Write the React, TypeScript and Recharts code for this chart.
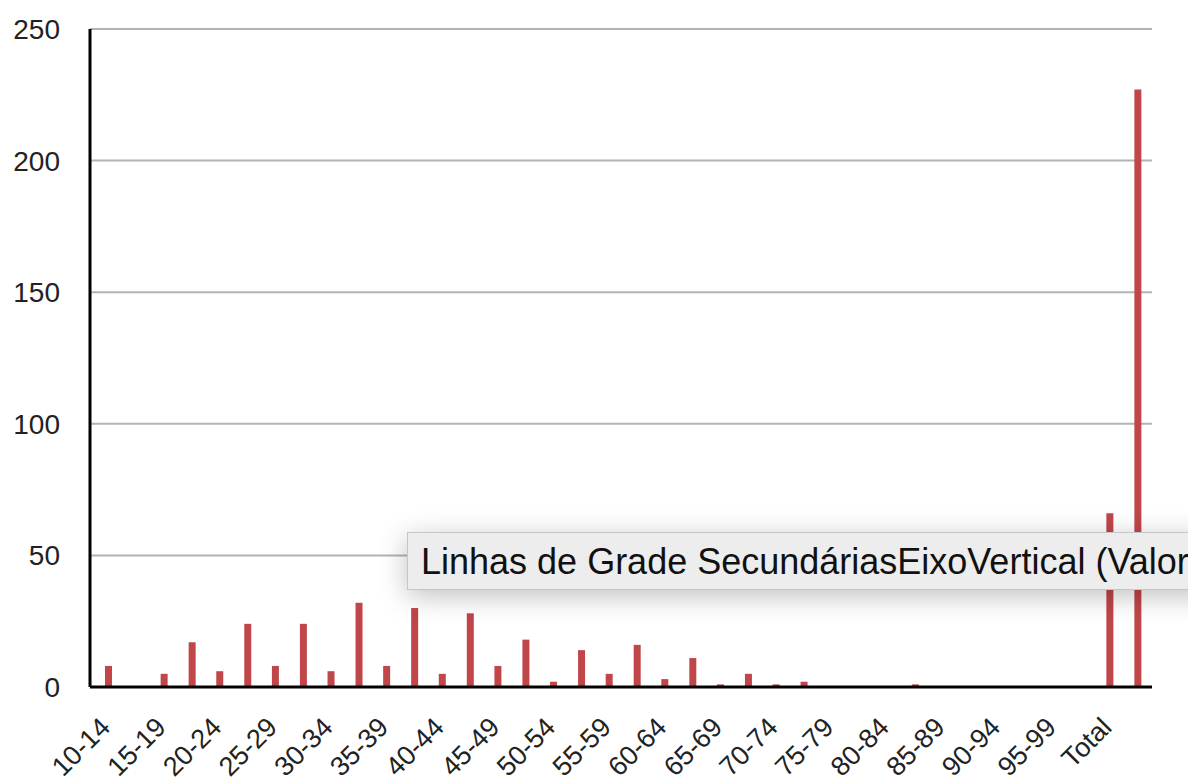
import { BarChart, Bar, XAxis, YAxis, CartesianGrid } from 'recharts';

const categories = [
  '10-14', '15-19', '20-24', '25-29', '30-34', '35-39', '40-44', '45-49', '50-54', '55-59',
  '60-64', '65-69', '70-74', '75-79', '80-84', '85-89', '90-94', '95-99', 'Total',
];
const seriesA = [8, 5, 6, 8, 6, 8, 5, 8, 2, 5, 3, 1, 1, 0, 0, 0, 0, 0, 66];
const seriesB = [0, 17, 24, 24, 32, 30, 28, 18, 14, 16, 11, 5, 2, 0, 1, 0, 0, 0, 227];
const yTicks = [0, 50, 100, 150, 200, 250];

const data = categories.map((name, i) => ({ name, a: seriesA[i], b: seriesB[i] }));

const font = '"Liberation Sans", Arial, Helvetica, sans-serif';
const barColor = '#c0464a';

function RotTick(props: any) {
  const { x, y, payload } = props;
  return (
    <g transform={`translate(${x - 11},${y + 34})`}>
      <text
        x={0}
        y={0}
        transform="rotate(-45)"
        textAnchor="end"
        fontSize={27}
        fontFamily={font}
        fill="#222"
      >
        {payload.value}
      </text>
    </g>
  );
}

export default function App() {
  return (
    <div
      style={{
        position: 'fixed',
        left: 0,
        top: 0,
        width: 1188,
        height: 782,
        overflow: 'hidden',
        background: '#fff',
      }}
    >
      <BarChart
        width={1188}
        height={782}
        data={data}
        margin={{ top: 29, right: 36, bottom: 0, left: 0 }}
        barGap={21}
        barSize={7}
      >
        <CartesianGrid vertical={false} stroke="#b3b3b3" strokeWidth={2} />
        <XAxis
          dataKey="name"
          interval={0}
          height={95}
          tickLine={false}
          axisLine={{ stroke: '#000', strokeWidth: 3 }}
          padding={{ left: 5, right: 0 }}
          tick={<RotTick />}
        />
        <YAxis
          domain={[0, 250]}
          ticks={yTicks}
          width={90}
          tickLine={false}
          tickSize={0}
          tickMargin={30}
          axisLine={{ stroke: '#000', strokeWidth: 3 }}
          tick={{ fill: '#222', fontSize: 28, fontFamily: font }}
        />
        <Bar dataKey="a" fill={barColor} isAnimationActive={false} />
        <Bar dataKey="b" fill={barColor} isAnimationActive={false} />
      </BarChart>
      {/* tooltip caught in the screenshot, cut by the window edge like the original */}
      <div
        style={{
          position: 'absolute',
          left: 407,
          top: 532,
          width: 820,
          height: 58,
          background: '#ededed',
          border: '1px solid #c6c6c6',
          boxShadow: '0 6px 28px rgba(0,0,0,0.25)',
          fontFamily: font,
          fontSize: 36,
          lineHeight: '58px',
          color: '#111',
          paddingLeft: 13,
          whiteSpace: 'nowrap',
          boxSizing: 'border-box',
        }}
      >
        Linhas de Grade SecundáriasEixoVertical (Valores)
      </div>
    </div>
  );
}
